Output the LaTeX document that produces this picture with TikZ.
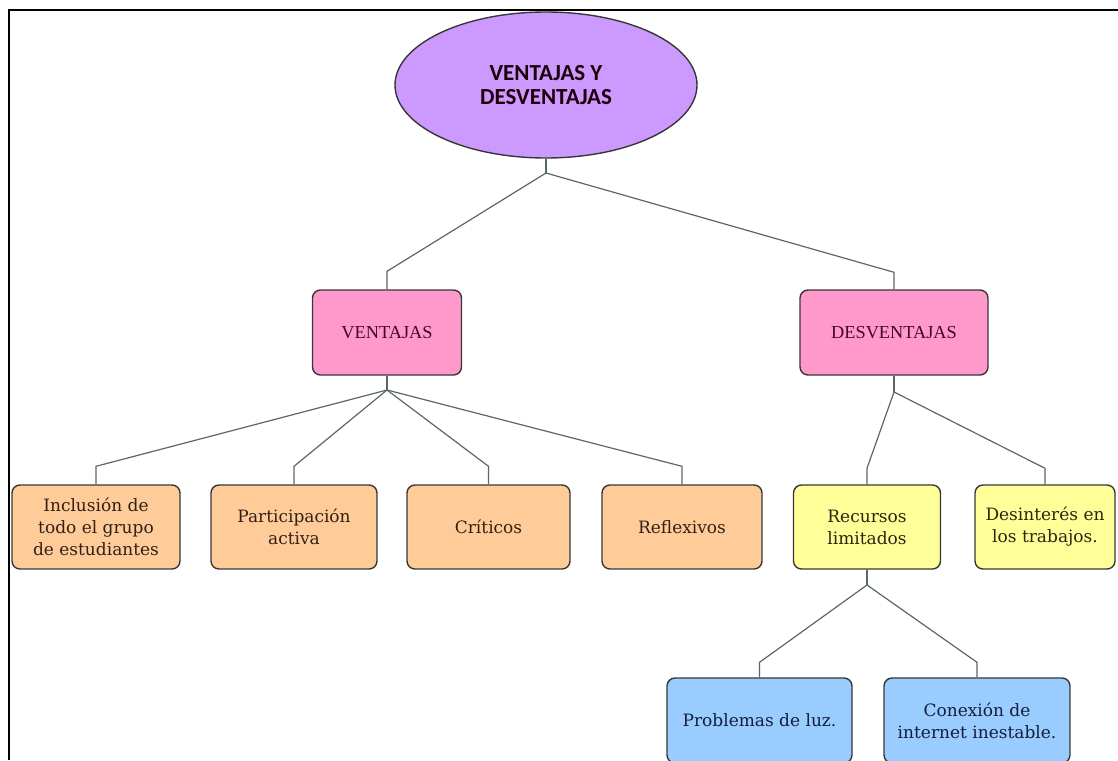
\documentclass[tikz,border=0pt]{standalone}
\usepackage{fontspec}
\setmainfont{DejaVu Serif}
\newfontfamily\titlefont{Carlito}
\newfontfamily\headfont{Liberation Serif}
\usetikzlibrary{shapes.geometric}

\definecolor{purplefill}{RGB}{204,153,255}
\definecolor{pinkfill}{RGB}{255,153,204}
\definecolor{orangefill}{RGB}{255,204,153}
\definecolor{yellowfill}{RGB}{255,255,153}
\definecolor{bluefill}{RGB}{153,204,255}
\definecolor{edgegray}{RGB}{90,104,100}
\definecolor{bordergray}{RGB}{55,55,55}
\definecolor{pinktext}{RGB}{70,5,40}
\definecolor{orangetext}{RGB}{50,32,20}
\definecolor{yellowtext}{RGB}{40,40,15}
\definecolor{bluetext}{RGB}{20,30,60}

\tikzset{
  box/.style={draw=bordergray, line width=1.4pt, rounded corners=8pt,
    align=center, inner sep=0pt, font=\fontsize{17}{22}\selectfont},
  headbox/.style={box, fill=pinkfill, text=pinktext,
    minimum height=85pt, font=\headfont\fontsize{18.3}{20}\selectfont},
  orangebox/.style={box, fill=orangefill, text=orangetext, minimum height=84pt},
  yellowbox/.style={box, fill=yellowfill, text=yellowtext, minimum height=84pt},
  bluebox/.style={box, fill=bluefill, text=bluetext, minimum height=85pt},
  link/.style={draw=edgegray, line width=1.2pt},
}

\begin{document}
\begin{tikzpicture}[x=1pt,y=-1pt]
  \useasboundingbox (0,0) rectangle (1118,760);

  % frame lines on the top and left
  \draw[line width=2.2pt, black] (9,760) -- (9,10) -- (1118,10);

  % root
  \node[ellipse, draw=bordergray, line width=1.4pt, fill=purplefill,
        minimum width=302pt, minimum height=146pt, inner sep=0pt, align=center,
        font=\titlefont\bfseries\fontsize{23}{23.5}\selectfont, text=black!85!purple]
        (root) at (546,85) {VENTAJAS Y\\DESVENTAJAS};

  % second level
  \node[headbox, minimum width=149pt] (ven) at (387,332.5) {VENTAJAS};
  \node[headbox, minimum width=188pt] (des) at (894,332.5) {DESVENTAJAS};

  % advantages
  \node[orangebox, minimum width=168pt] (o1) at (96,527) {Inclusión de\\todo el grupo\\de estudiantes};
  \node[orangebox, minimum width=166pt] (o2) at (294,527) {Participación\\activa};
  \node[orangebox, minimum width=163pt] (o3) at (488.5,527) {Críticos};
  \node[orangebox, minimum width=160pt] (o4) at (682,527) {Reflexivos};

  % disadvantages
  \node[yellowbox, minimum width=147pt] (y1) at (867,527) {Recursos\\limitados};
  \node[yellowbox, minimum width=140pt] (y2) at (1045,527) {Desinterés en\\los trabajos.};

  % causes of limited resources
  \node[bluebox, minimum width=185pt] (b1) at (759.5,720.5) {Problemas de luz.};
  \node[bluebox, minimum width=186pt] (b2) at (977,720.5) {Conexión de\\internet inestable.};

  % junction points
  \coordinate (jr) at (546,173);
  \coordinate (jv) at (387,390);
  \coordinate (jd) at (894,392);
  \coordinate (jy) at (867,585);

  % connectors (yshift is in page units, so positive moves upward)
  \draw[link] (root.south) -- (jr);
  \draw[link] (jr) -- ([yshift=18pt]ven.north) -- (ven.north);
  \draw[link] (jr) -- ([yshift=17pt]des.north) -- (des.north);

  \draw[link] (ven.south) -- (jv);
  \foreach \c in {o1,o2,o3,o4}
    \draw[link] (jv) -- ([yshift=18pt]\c.north) -- (\c.north);

  \draw[link] (des.south) -- (jd);
  \foreach \c in {y1,y2}
    \draw[link] (jd) -- ([yshift=16pt]\c.north) -- (\c.north);

  \draw[link] (y1.south) -- (jy);
  \foreach \c in {b1,b2}
    \draw[link] (jy) -- ([yshift=15pt]\c.north) -- (\c.north);
\end{tikzpicture}
\end{document}
